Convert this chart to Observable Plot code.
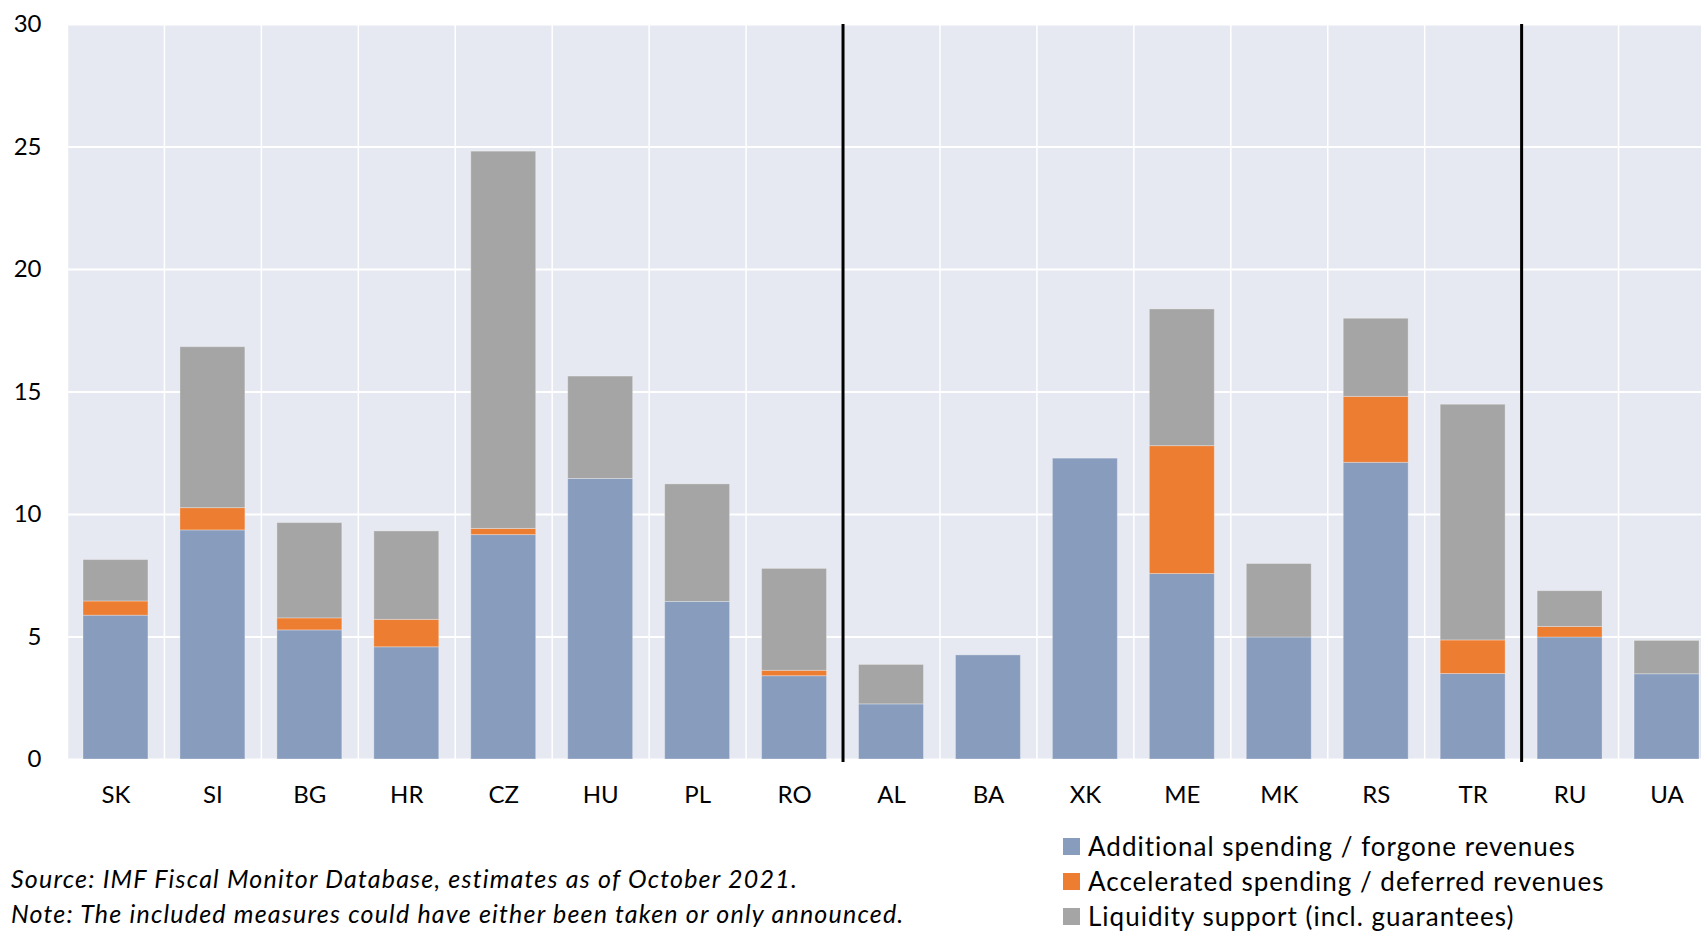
<!DOCTYPE html>
<html>
<head>
<meta charset="utf-8">
<script src="https://cdn.jsdelivr.net/npm/d3@7"></script>
<script src="https://cdn.jsdelivr.net/npm/@observablehq/plot@0.6"></script>
<style>
  html, body { margin: 0; padding: 0; background: #fff; overflow: hidden; }
  #wrap { position: relative; width: 1701px; height: 936px; overflow: hidden; font-family: Lato, "Open Sans", sans-serif; color: #000; }
  #chart .chart { max-width: none; display: block; }
  #foot { position: absolute; left: 0; top: 820px; width: 1701px; height: 116px; }
  .caption { position: absolute; left: 11px; top: 41px; font-size: 25px; letter-spacing: 1.2px; font-style: italic; line-height: 35px; white-space: nowrap; }
  .legend { position: absolute; left: 1063px; top: 9px; font-size: 26px; letter-spacing: 1px; line-height: 35px; white-space: nowrap; }
  .legend .item { display: flex; align-items: center; }
  .legend .sw { width: 17px; height: 17px; margin-right: 8px; display: inline-block; }
</style>
</head>
<body>
<div id="wrap">
  <div id="chart"></div>
  <div id="foot">
    <div class="caption" id="caption"></div>
    <div class="legend" id="legend"></div>
  </div>
</div>
<script>
// Fiscal support measures by country, percent of GDP
const countries = ["SK", "SI", "BG", "HR", "CZ", "HU", "PL", "RO", "AL", "BA", "XK", "ME", "MK", "RS", "TR", "RU", "UA"];
const additionalSpending = [5.87, 9.35, 5.27, 4.58, 9.16, 11.45, 6.43, 3.40, 2.25, 4.25, 12.28, 7.57, 4.98, 12.11, 3.49, 4.98, 3.48];
const acceleratedSpending = [0.58, 0.91, 0.49, 1.12, 0.25, 0, 0, 0.22, 0, 0, 0, 5.22, 0, 2.69, 1.37, 0.43, 0];
const liquiditySupport = [1.69, 6.57, 3.89, 3.61, 15.40, 4.18, 4.80, 4.16, 1.61, 0, 0, 5.58, 3.00, 3.19, 9.62, 1.46, 1.36];

const seriesNames = [
  "Additional spending / forgone revenues",
  "Accelerated spending / deferred revenues",
  "Liquidity support (incl. guarantees)"
];
const seriesColors = ["#889CBE", "#ED7D31", "#A5A5A5"];
const seriesValues = [additionalSpending, acceleratedSpending, liquiditySupport];

// Country groups start at these countries (a divider is drawn before each)
const groupStarts = ["AL", "RU"];
const yTicks = [0, 5, 10, 15, 20, 25, 30];

const captionLines = [
  "Source: IMF Fiscal Monitor Database, estimates as of October 2021.",
  "Note: The included measures could have either been taken or only announced."
];

// Stacked segments, one row per country and series
const rows = [];
countries.forEach((country, i) => {
  let base = 0;
  seriesValues.forEach((values, k) => {
    const v = values[i];
    if (v > 0) rows.push({country, idx: i, series: seriesNames[k], y1: base, y2: base + v});
    base += v;
  });
});

const chart = Plot.plot({
  className: "chart",
  width: 1715,
  height: 820,
  marginLeft: 67,
  marginRight: 0,
  marginTop: 24,
  marginBottom: 61,
  style: {fontFamily: "Lato, 'Open Sans', sans-serif", fontSize: "24px", color: "#000", background: "transparent"},
  x: {domain: [0, countries.length], axis: null},
  y: {domain: [0, 30], axis: null},
  color: {domain: seriesNames, range: seriesColors},
  marks: [
    Plot.frame({fill: "#E6E9F1", stroke: "none"}),
    Plot.gridY(yTicks, {stroke: "#fff", strokeOpacity: 1, strokeWidth: 2}),
    Plot.ruleX(d3.range(countries.length + 1), {stroke: "#fff", strokeWidth: 1.5}),
    Plot.rect(rows, {
      x1: d => d.idx,
      x2: d => d.idx + 1,
      y1: "y1",
      y2: "y2",
      fill: "series",
      insetLeft: 16,
      insetRight: 16,
      stroke: "#fff",
      strokeOpacity: 0.3,
      strokeWidth: 1
    }),
    Plot.ruleX(groupStarts, {x: c => countries.indexOf(c), stroke: "#000", strokeWidth: 3, insetBottom: -3}),
    Plot.axisY(yTicks, {tickSize: 0, tickPadding: 26, fontSize: 24}),
    Plot.axisX(countries.map((c, i) => i + 0.5), {
      tickSize: 0,
      tickPadding: 26,
      fontSize: 24,
      tickFormat: d => countries[Math.floor(d)]
    })
  ]
});
document.getElementById("chart").appendChild(chart);

// Legend
const legend = document.getElementById("legend");
seriesNames.forEach((name, k) => {
  const item = document.createElement("div");
  item.className = "item";
  const sw = document.createElement("span");
  sw.className = "sw";
  sw.style.background = seriesColors[k];
  const label = document.createElement("span");
  label.textContent = name;
  item.appendChild(sw);
  item.appendChild(label);
  legend.appendChild(item);
});

// Source and note
const caption = document.getElementById("caption");
captionLines.forEach(line => {
  const div = document.createElement("div");
  div.textContent = line;
  caption.appendChild(div);
});
</script>
</body>
</html>
